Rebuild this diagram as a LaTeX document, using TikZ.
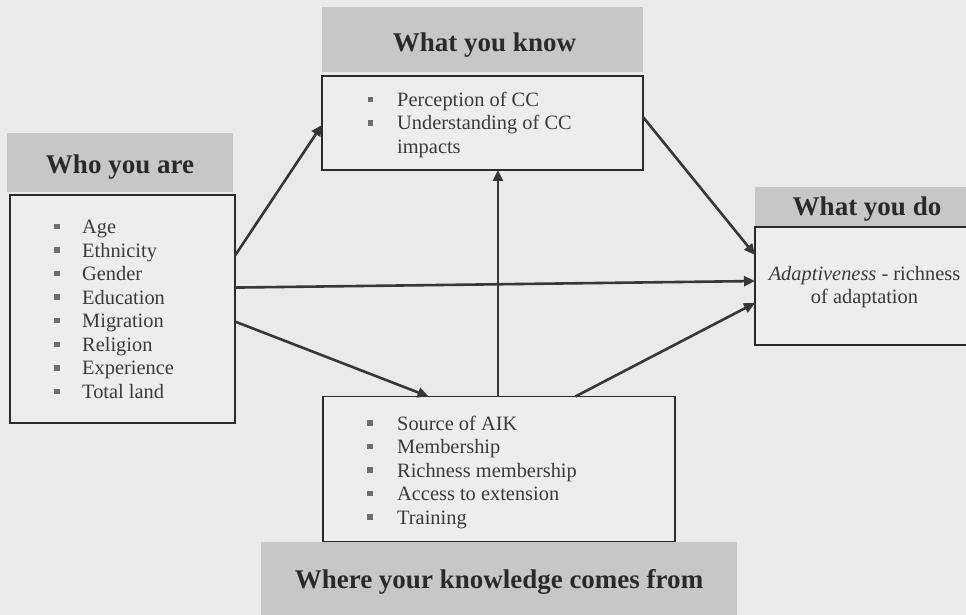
\documentclass[tikz,border=0pt]{standalone}
\usepackage{fontspec}
\setmainfont{Liberation Serif}
\usetikzlibrary{arrows.meta, calc}
\definecolor{papergray}{RGB}{234,234,234}
\definecolor{headgray}{RGB}{199,199,199}
\definecolor{boxgray}{RGB}{237,237,237}
\definecolor{inkgray}{RGB}{42,42,42}
\definecolor{textgray}{RGB}{58,58,58}
\definecolor{bulgray}{RGB}{110,110,110}
\definecolor{arrowgray}{RGB}{55,55,55}

\begin{document}
\begin{tikzpicture}[x=1bp, y=-1bp,
      head/.style={fill=headgray, inner sep=0pt, outer sep=0pt},
      box/.style={draw=inkgray, line width=1.6bp, fill=boxgray,
                  inner sep=0pt, outer sep=0pt},
      title/.style={font=\fontsize{27bp}{30bp}\selectfont\bfseries,
                    text=inkgray, inner sep=0pt, anchor=base},
      item/.style={font=\fontsize{20.4bp}{23.4bp}\selectfont,
                   text=textgray, inner sep=0pt, anchor=base west},
      bul/.style={fill=bulgray, minimum size=5.5bp, inner sep=0pt},
      conn/.style={-{Triangle[length=11bp, width=10bp]},
                   line width=2.6bp, draw=arrowgray}]
    \path[use as bounding box, clip] (0,0) rectangle (966,615);
    \fill[papergray] (0,0) rectangle (966,615);
    % Who you are
    \node[head, minimum width=226bp, minimum height=59bp] (whohead) at (120,163) {};
    \node[box, minimum width=225bp, minimum height=228bp] (who) at (122.5,309) {};
    \node[title] (whotitle) at (120,173.3) {Who you are};
    \foreach \txt [count=\i] in {Age, Ethnicity, Gender, Education,
                                 Migration, Religion, Experience, Total land} {
      \node[bul] (whob\i) at (57, {226.5+(\i-1)*23.55}) {};
      \node[item] (whoi\i) at (82, {233.5+(\i-1)*23.55}) {\txt};
    }
    % What you know
    \node[head, minimum width=321bp, minimum height=65bp] (knowhead) at (482.5,39.5) {};
    \node[box, minimum width=321bp, minimum height=94bp] (know) at (482.5,123) {};
    \node[title] (knowtitle) at (484.5,51.7) {What you know};
    \node[bul] (knowb1) at (370.5,99.5) {};
    \node[item] (knowi1) at (397,106.5) {Perception of CC};
    \node[bul] (knowb2) at (370.5,123) {};
    \node[item] (knowi2) at (397,130) {Understanding of CC};
    \node[item] (knowi3) at (397,153.5) {impacts};
    % What you do
    \node[head, minimum width=220bp, minimum height=40bp] (dohead) at (865,207) {};
    \node[box, minimum width=220bp, minimum height=118bp] (do) at (865,286) {};
    \node[title] (dotitle) at (867,216) {What you do};
    \node[item, anchor=center, align=center] (dotext) at (864.5,287)
          {\textit{Adaptiveness} - richness\\of adaptation};
    % Where your knowledge comes from
    \node[head, minimum width=476bp, minimum height=78bp] (wherehead) at (499,581) {};
    \node[box, minimum width=352bp, minimum height=145bp] (where) at (499,469) {};
    \node[title] (wheretitle) at (499,588) {Where your knowledge comes from};
    \foreach \txt [count=\i] in {Source of AIK, Membership, Richness membership,
                                 Access to extension, Training} {
      \node[bul] (whereb\i) at (370, {423+(\i-1)*23.5}) {};
      \node[item] (wherei\i) at (397, {430+(\i-1)*23.5}) {\txt};
    }
    % Links
    \draw[conn] ($(who.north east)!0.266!(who.south east)$)
             -- ($(know.north west)!0.52!(know.south west)$);
    \draw[conn] ($(who.north east)!0.406!(who.south east)$)
             -- ($(do.north west)!0.458!(do.south west)$);
    \draw[conn] ($(who.north east)!0.555!(who.south east)$)
             -- ($(where.north west)!0.30!(where.north east)$);
    \coordinate (up) at ($(where.north west)!0.497!(where.north east)$);
    \draw[conn] (up) -- (up |- know.south);
    \draw[conn] ($(where.north west)!0.717!(where.north east)$)
             -- ($(do.north west)!0.644!(do.south west)$);
    \draw[conn] ($(know.north east)!0.436!(know.south east)$)
             -- ($(do.north west)!0.237!(do.south west)$);
  \end{tikzpicture}
\end{document}
